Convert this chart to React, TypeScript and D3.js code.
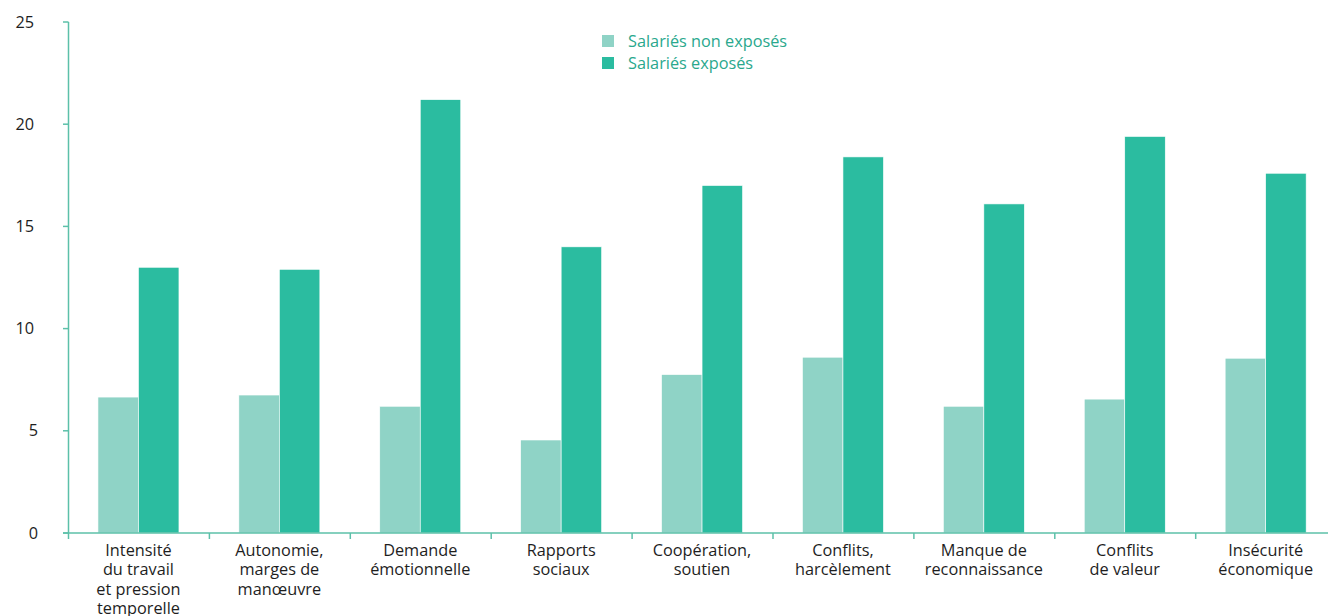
import React from "react";
import * as d3 from "d3";

const categories: string[][] = [
  ["Intensité", "du travail", "et pression", "temporelle"],
  ["Autonomie,", "marges de", "manœuvre"],
  ["Demande", "émotionnelle"],
  ["Rapports", "sociaux"],
  ["Coopération,", "soutien"],
  ["Conflits,", "harcèlement"],
  ["Manque de", "reconnaissance"],
  ["Conflits", "de valeur"],
  ["Insécurité", "économique"],
];
const nonExposes = [6.65, 6.75, 6.2, 4.55, 7.75, 8.6, 6.2, 6.55, 8.55];
const exposes = [13.0, 12.9, 21.2, 14.0, 17.0, 18.4, 16.1, 19.4, 17.6];
const seriesNames = ["Salariés non exposés", "Salariés exposés"];
const yTicks = [0, 5, 10, 15, 20, 25];

const W = 1328;
const H = 616;
const colors = ["#8fd3c6", "#2bbca0"];
const axisColor = "#5cc0a9";
const font = "'Open Sans', Lato, sans-serif";
const fs = 16.3;

export default function App() {
  const x0 = 68;
  const band = 140.9;
  const x = d3
    .scaleBand<number>()
    .domain(d3.range(categories.length))
    .range([x0, x0 + band * categories.length])
    .paddingInner(0)
    .paddingOuter(0);
  const y = d3.scaleLinear().domain([0, 25]).range([533, 22]);
  const barW = 40.5;
  const series = [nonExposes, exposes];

  return (
    <svg width={W} height={H} style={{ position: "absolute", left: 0, top: 0, background: "#fff" }}>
      {series.map((vals, si) =>
        vals.map((v, i) => {
          const cx = (x(i) as number) + x.bandwidth() / 2;
          const bx = cx - barW + si * barW;
          return (
            <rect
              key={`${si}-${i}`}
              x={bx}
              y={y(v)}
              width={barW}
              height={y(0) - y(v)}
              fill={colors[si]}
              stroke="#ffffff"
              strokeWidth={0.6}
            />
          );
        })
      )}
      {/* y axis */}
      <line x1={68.5} x2={68.5} y1={y(25)} y2={y(0)} stroke={axisColor} strokeWidth={1.5} />
      {yTicks.map((t) => (
        <g key={t}>
          <line x1={63} x2={68.5} y1={y(t)} y2={y(t)} stroke={axisColor} strokeWidth={1.5} />
          <text
            x={String(t).length > 1 ? 34 : 38}
            y={y(t) + 5.5}
            textAnchor="end"
            fontFamily={font}
            fontSize={fs}
            fill="#1e1e1e"
          >
            {t}
          </text>
        </g>
      ))}
      {/* x axis */}
      <line x1={63} x2={W} y1={y(0)} y2={y(0)} stroke={axisColor} strokeWidth={1.5} />
      {d3.range(categories.length + 1).map((i) => {
        const tx = x0 + i * band + 0.5;
        return <line key={i} x1={tx} x2={tx} y1={y(0)} y2={y(0) + 6} stroke={axisColor} strokeWidth={1.5} />;
      })}
      {categories.map((lines, i) => {
        const cx = (x(i) as number) + x.bandwidth() / 2;
        return (
          <text key={i} textAnchor="middle" fontFamily={font} fontSize={fs} fill="#1e1e1e">
            {lines.map((l, li) => (
              <tspan key={li} x={cx} y={555.5 + li * 19.6}>
                {l}
              </tspan>
            ))}
          </text>
        );
      })}
      {/* legend */}
      {seriesNames.map((n, i) => (
        <g key={n}>
          <rect x={602} y={35 + i * 22} width={12} height={12} fill={colors[i]} />
          <text x={628} y={47 + i * 22} fontFamily={font} fontSize={fs} fill="#2aa88d">
            {n}
          </text>
        </g>
      ))}
    </svg>
  );
}
